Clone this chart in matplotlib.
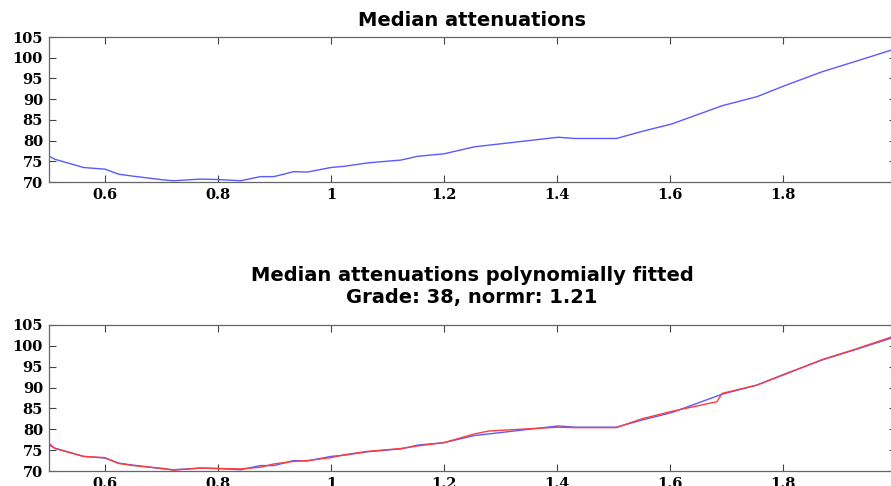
import matplotlib
matplotlib.use("Agg")
import matplotlib.pyplot as plt

# Data
x_median = [0.500, 0.511, 0.562, 0.600, 0.624, 0.650, 0.704, 0.721, 0.769, 0.800,
            0.840, 0.875, 0.899, 0.934, 0.958, 1.000, 1.024, 1.064, 1.124, 1.153,
            1.200, 1.254, 1.402, 1.432, 1.505, 1.550, 1.603, 1.692, 1.754, 1.804,
            1.869, 1.928, 2.000]
y_median = [76.3, 75.5, 73.5, 73.1, 71.9, 71.4, 70.5, 70.3, 70.7, 70.6,
            70.3, 71.3, 71.3, 72.5, 72.4, 73.5, 73.8, 74.6, 75.3, 76.2,
            76.8, 78.5, 80.8, 80.5, 80.5, 82.2, 84.0, 88.4, 90.6, 93.3,
            96.6, 99.1, 102.2]

x_fit = [0.500, 0.511, 0.562, 0.600, 0.624, 0.650, 0.704, 0.721, 0.769, 0.800,
         0.840, 0.875, 0.899, 0.934, 0.958, 1.000, 1.024, 1.064, 1.124, 1.153,
         1.200, 1.254, 1.280, 1.402, 1.432, 1.505, 1.550, 1.603, 1.683, 1.692,
         1.754, 1.804, 1.869, 1.928, 2.000]
y_fit = [76.8, 75.4, 73.5, 73.2, 71.8, 71.3, 70.6, 70.2, 70.7, 70.6,
         70.5, 70.9, 71.7, 72.3, 72.5, 73.2, 73.9, 74.7, 75.4, 76.0,
         76.8, 78.9, 79.6, 80.5, 80.4, 80.4, 82.5, 84.3, 86.6, 88.6,
         90.6, 93.2, 96.7, 99.2, 102.5]

x_ticks = [0.6, 0.8, 1.0, 1.2, 1.4, 1.6, 1.8]
x_ticklabels = ["0.6", "0.8", "1", "1.2", "1.4", "1.6", "1.8"]
y_ticks = [70, 75, 80, 85, 90, 95, 100, 105]

title_top = "Median attenuations"
title_bottom = "Median attenuations polynomially fitted\nGrade: 38, normr: 1.21"

W, H = 891, 486
fig = plt.figure(figsize=(W / 100, H / 100), dpi=100)

blue = "#5a5aff"
red = "#ff3c3c"

def make_axes(top_px, bottom_px):
    left_px, right_px = 48.5, 896
    return fig.add_axes([left_px / W, 1 - bottom_px / H,
                         (right_px - left_px) / W, (bottom_px - top_px) / H])

def style(ax):
    ax.set_xlim(0.5, 2.0)
    ax.set_ylim(70, 105)
    ax.set_xticks(x_ticks)
    ax.set_xticklabels(x_ticklabels)
    ax.set_yticks(y_ticks)
    ax.tick_params(direction="in", top=True, right=True, length=5, width=0.8,
                   color="#444444", labelsize=10.5, pad=4)
    for lab in ax.get_xticklabels() + ax.get_yticklabels():
        lab.set_fontweight("heavy")
        lab.set_family("DejaVu Serif")
    for sp in ax.spines.values():
        sp.set_color("#666666")
        sp.set_linewidth(0.9)

ax1 = make_axes(37, 182)
ax1.plot(x_median, y_median, color=blue, lw=1.0)
style(ax1)
ax1.set_title(title_top, fontsize=14, fontweight="heavy", pad=8)

ax2 = make_axes(325, 471)
ax2.plot(x_median, y_median, color=blue, lw=1.0)
ax2.plot(x_fit, y_fit, color=red, lw=1.0)
style(ax2)
ax2.set_title(title_bottom, fontsize=14, fontweight="heavy", pad=16, linespacing=1.2)

fig.savefig("out.png", dpi=100)
